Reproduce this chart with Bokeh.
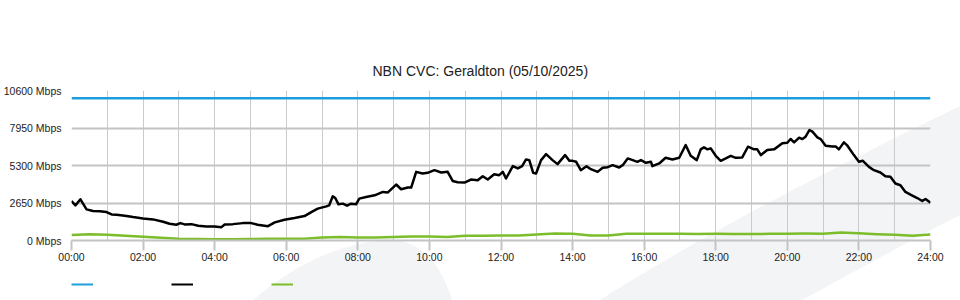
from urllib.parse import quote
from bokeh.plotting import figure
from bokeh.layouts import column
from bokeh.models import Range1d, FixedTicker, Legend, LegendItem
from bokeh.embed import file_html
from bokeh.resources import INLINE

# ---------------- data ----------------
title_text = "NBN CVC: Geraldton (05/10/2025)"
x_tick_hours = [0, 2, 4, 6, 8, 10, 12, 14, 16, 18, 20, 22, 24]
x_tick_labels = ["00:00", "02:00", "04:00", "06:00", "08:00", "10:00", "12:00",
                 "14:00", "16:00", "18:00", "20:00", "22:00", "24:00"]
y_tick_values = [0, 2650, 5300, 7950, 10600]
y_tick_labels = ["0 Mbps", "2650 Mbps", "5300 Mbps", "7950 Mbps", "10600 Mbps"]

capacity_hours = [0, 24]
capacity_mbps = [10050, 10050]

traffic_hours = [
    0.00, 0.11, 0.25, 0.42, 0.60, 0.79, 0.98, 1.12, 1.26, 1.49, 1.72, 2.00, 2.28, 2.56,
    2.74, 2.93, 3.04, 3.16, 3.35, 3.54, 3.77, 4.00, 4.19, 4.28, 4.51, 4.79, 5.02, 5.20,
    5.49, 5.68, 5.95, 6.23, 6.51, 6.70, 6.88, 7.12, 7.20, 7.30, 7.37, 7.46, 7.58, 7.70,
    7.81, 7.95, 8.04, 8.23, 8.47, 8.70, 8.84, 9.07, 9.21, 9.40, 9.49, 9.63, 9.81, 9.95,
    10.14, 10.33, 10.51, 10.65, 10.79, 10.98, 11.16, 11.35, 11.49, 11.63, 11.81, 11.95,
    12.05, 12.14, 12.33, 12.47, 12.59, 12.70, 12.79, 12.90, 12.98, 13.12, 13.26, 13.44,
    13.58, 13.79, 13.91, 14.00, 14.10, 14.23, 14.39, 14.51, 14.70, 14.84, 14.98, 15.12,
    15.30, 15.40, 15.54, 15.68, 15.81, 15.91, 16.05, 16.19, 16.23, 16.42, 16.60, 16.79,
    16.98, 17.16, 17.30, 17.47, 17.58, 17.67, 17.77, 17.86, 18.00, 18.14, 18.28, 18.42,
    18.56, 18.74, 18.90, 19.07, 19.16, 19.26, 19.44, 19.63, 19.86, 20.00, 20.09, 20.19,
    20.33, 20.42, 20.51, 20.62, 20.70, 20.84, 20.93, 21.07, 21.26, 21.35, 21.44, 21.58,
    21.68, 21.86, 22.00, 22.11, 22.28, 22.42, 22.60, 22.74, 22.88, 23.02, 23.16, 23.30,
    23.44, 23.63, 23.77, 23.86, 24.00,
]
traffic_mbps = [
    2790, 2485, 2911, 2200, 2080, 2060, 2010, 1846, 1825, 1753, 1655, 1562, 1491, 1327,
    1186, 1115, 1228, 1136, 1157, 1044, 994, 994, 944, 1136, 1157, 1228, 1230, 1115,
    1015, 1278, 1470, 1583, 1725, 2010, 2250, 2414, 2485, 3124, 3003, 2556, 2605, 2462,
    2605, 2556, 2960, 3075, 3195, 3430, 3400, 3955, 3620, 3740, 3740, 4850, 4735, 4780,
    4970, 4805, 4850, 4210, 4118, 4095, 4310, 4260, 4544, 4310, 4686, 4615,
    4850, 4380, 5254, 5090, 5254, 5730, 5680, 4780, 4735, 5680, 6106, 5680,
    5396, 6035, 5630, 5630, 5560, 4970, 5254, 5040, 4850, 5134, 5183, 5325,
    5160, 5325, 5800, 5680, 5560, 5680, 5490, 5560, 5254, 5445, 5845, 5730,
    5845, 6745, 5985, 5680, 6440, 6580, 6440, 6510, 5985, 5630, 5800, 5985,
    5845, 5870, 6627, 6440, 6440, 6035, 6390, 6440, 6865, 6910, 7170, 6935,
    7265, 7170, 7335, 7810, 7690, 7290, 7170, 6700, 6650, 6650, 6440, 6935,
    6700, 6035, 5560, 5630, 5205, 4970, 4805, 4544, 4500, 4025, 3905, 3430,
    3240, 3003, 2790, 2935, 2677,
]

upload_hours = [
    0.0, 0.5, 1.0, 1.5, 2.0, 2.5, 3.0, 3.5, 4.0, 4.5, 5.0, 5.5, 6.0, 6.5, 7.0, 7.5,
    8.0, 8.5, 9.0, 9.5, 10.0, 10.5, 11.0, 11.5, 12.0, 12.5, 13.0, 13.5, 14.0, 14.5,
    15.0, 15.5, 16.0, 16.5, 17.0, 17.5, 18.0, 18.5, 19.0, 19.5, 20.0, 20.5, 21.0,
    21.5, 22.0, 22.5, 23.0, 23.5, 24.0,
]
upload_mbps = [
    380, 450, 400, 330, 260, 190, 120, 100, 95, 95, 110, 120, 120, 130, 220, 240,
    210, 210, 240, 280, 280, 240, 330, 330, 355, 355, 420, 490, 470, 360,
    360, 470, 470, 470, 470, 460, 470, 460, 460, 470, 480, 490, 480,
    570, 520, 450, 400, 340, 430,
]

# ---------------- styling ----------------
BLUE = "#1c9fdc"
BLACK = "#000000"
GREEN = "#7cbd2b"
FONT = "Liberation Sans"

svg_bg = (
    "<svg xmlns='http://www.w3.org/2000/svg' width='960' height='300'>"
    "<path d='M253,300 C290,268 335,244 385,240 C420,238 440,262 452,300 Z' fill='#f3f4f6'/>"
    "<path d='M600,300 C660,262 760,203 960,106 L960,215 C900,246 850,274 802,300 Z' fill='#f3f4f6'/>"
    "</svg>"
)
bg_url = "url(\"data:image/svg+xml;charset=utf-8," + quote(svg_bg) + "\")"

p = figure(
    width=960, height=268,
    x_range=Range1d(0, 24), y_range=Range1d(0, 10600),
    min_border_left=70, min_border_right=30, min_border_top=90, min_border_bottom=28,
    output_backend="svg", toolbar_location=None,
    background_fill_color=None, border_fill_color=None,
    outline_line_color=None,
)

p.title.text = title_text
p.title.align = "left"
p.title.offset = 301
p.title.text_font = FONT
p.title.text_font_size = "14px"
p.title.text_font_style = "normal"
p.title.text_color = "#222222"
p.title.standoff = 24

# x axis
xa = p.xaxis[0]
xa.ticker = FixedTicker(ticks=x_tick_hours)
xa.major_label_overrides = {h: l for h, l in zip(x_tick_hours, x_tick_labels)}
xa.axis_line_color = "#c4c4c4"
xa.axis_line_width = 2
xa.major_tick_line_color = "#c4c4c4"
xa.major_tick_line_width = 2
xa.major_tick_in = 0
xa.major_tick_out = 10
xa.minor_tick_line_color = None
xa.major_label_standoff = 0
xa.major_label_text_font = FONT
xa.major_label_text_font_size = "10.5px"
xa.major_label_text_color = "#222222"

# y axis
ya = p.yaxis[0]
ya.ticker = FixedTicker(ticks=y_tick_values)
ya.major_label_overrides = {v: l for v, l in zip(y_tick_values, y_tick_labels)}
ya.axis_line_color = None
ya.major_tick_line_color = None
ya.minor_tick_line_color = None
ya.major_tick_in = 0
ya.major_tick_out = 0
ya.major_label_standoff = 10
ya.major_label_text_font = FONT
ya.major_label_text_font_size = "10.5px"
ya.major_label_text_color = "#222222"

# grids
p.xgrid.ticker = FixedTicker(ticks=list(range(0, 25)))
p.xgrid.grid_line_color = "#cbcbcb"
p.xgrid.grid_line_width = 1
p.ygrid.ticker = FixedTicker(ticks=y_tick_values[1:4])
p.ygrid.grid_line_color = "#c4c4c4"
p.ygrid.grid_line_width = 2

# series
p.line(capacity_hours, capacity_mbps, line_color=BLUE, line_width=2.5)
p.line(traffic_hours, traffic_mbps, line_color=BLACK, line_width=2.5, line_join="round")
p.line(upload_hours, upload_mbps, line_color=GREEN, line_width=2.5, line_join="round")

# legend strip (swatches only, no text, as in the original)
pl = figure(
    width=960, height=32, x_range=Range1d(0, 1), y_range=Range1d(0, 1),
    min_border_left=0, min_border_right=0, min_border_top=0, min_border_bottom=0,
    output_backend="svg", toolbar_location=None,
    background_fill_color=None, border_fill_color=None, outline_line_color=None,
    x_axis_location=None, y_axis_location=None,
)
pl.xgrid.visible = False
pl.ygrid.visible = False
swatches = [pl.line(x=[5, 6], y=[5, 6], line_color=c, line_width=2)
            for c in (BLUE, BLACK, GREEN)]
legend = Legend(
    items=[LegendItem(label=" ", renderers=[r]) for r in swatches],
    location="left",
    orientation="horizontal",
    glyph_width=22, glyph_height=10,
    label_width=0, label_height=10, label_standoff=0,
    label_text_font_size="1px",
    padding=0, margin=0, spacing=78,
    background_fill_alpha=0, border_line_color=None,
)
pl.add_layout(legend)

layout = column(p, pl, spacing=0,
                styles={"background-image": bg_url, "background-repeat": "no-repeat",
                        "background-color": "#ffffff"})

open("out.html", "w").write(file_html(layout, INLINE))
